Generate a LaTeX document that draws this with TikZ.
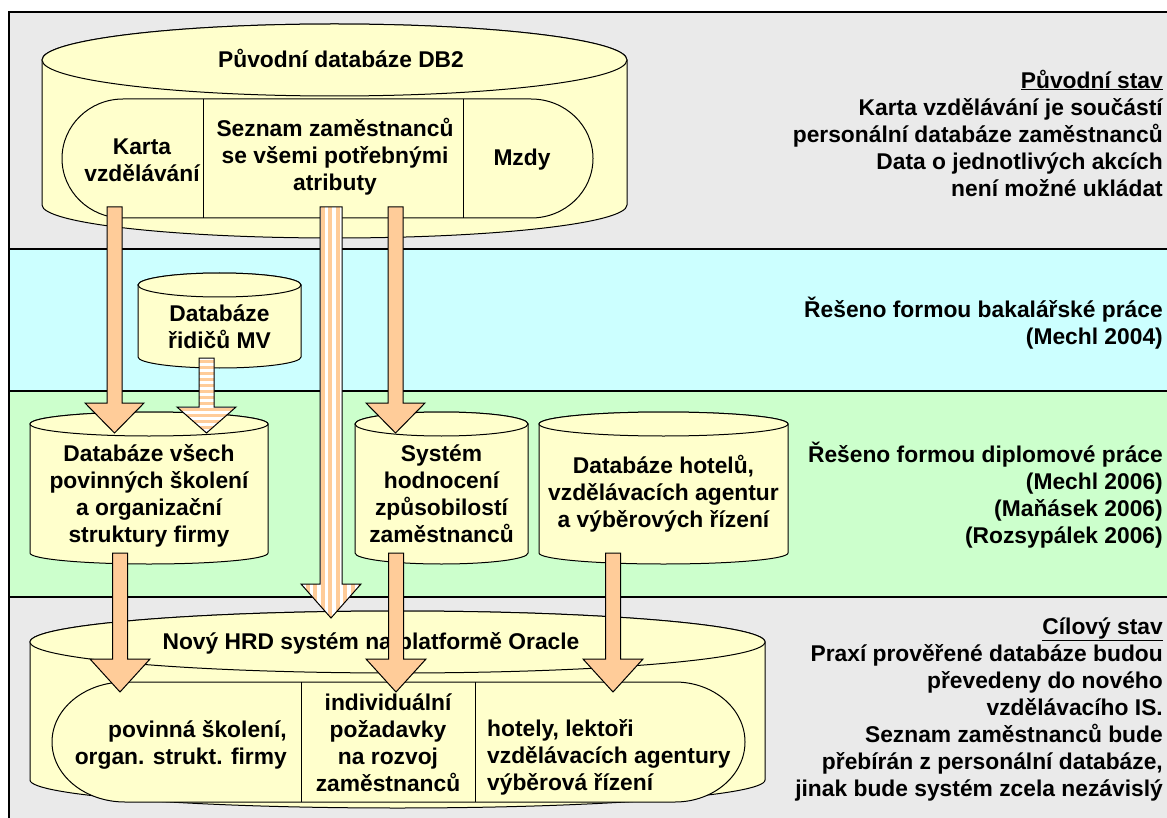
\documentclass[tikz,border=0pt]{standalone}
\usepackage{fontspec}
\setmainfont{Liberation Sans}
\usetikzlibrary{calc}
\usetikzlibrary{patterns.meta}

\definecolor{bandgray}{HTML}{EAEAEA}
\definecolor{bandcyan}{HTML}{CCFFFF}
\definecolor{bandgreen}{HTML}{CCFFCC}
\definecolor{cylfill}{HTML}{FFFFCC}
\definecolor{arrfill}{HTML}{FFCC99}

% block arrow: style, from, to, shaft half width, head half width, head length
\newcommand{\blockarr}[6]{%
  \draw[#1] ($(#2)+(-#4,0)$) -- ($(#3)+(-#4,-#6)$) -- ($(#3)+(-#5,-#6)$) -- (#3)
    -- ($(#3)+(#5,-#6)$) -- ($(#3)+(#4,-#6)$) -- ($(#2)+(#4,0)$) -- cycle;}

\tikzset{
  cyl/.style={draw=black, fill=cylfill, line width=1},
  txt/.style={font=\bfseries\fontsize{22.8}{27}\selectfont, align=center, inner sep=0},
  solidarr/.style={draw=black, fill=arrfill, line width=1},
  vstripe/.style={draw=black, line width=1, preaction={fill=white},
    pattern={Lines[angle=90,distance=7.5pt,line width=4pt]}, pattern color=arrfill},
  hstripe/.style={draw=black, line width=1, preaction={fill=white},
    pattern={Lines[angle=0,distance=6pt,line width=3pt]}, pattern color=arrfill}
}

\begin{document}
\begin{tikzpicture}[x=1pt, y=-1pt]
\useasboundingbox (0,0) rectangle (1167,818);
\clip (0,0) rectangle (1167,818);

% bands
\foreach \ya/\yb/\col in {12/249/bandgray, 249/391/bandcyan, 391/597/bandgreen, 597/840/bandgray}
  \draw[fill=\col, line width=1.2] (9,\ya) rectangle (1190,\yb);

% original DB2
\draw[cyl] (42,60) -- (42,205) arc[start angle=180, end angle=0, x radius=292.5, y radius=33]
  -- (627,60) arc[start angle=0, end angle=-180, x radius=292.5, y radius=36] -- cycle;
\draw[cyl] (334.5,60) ellipse [x radius=292.5, y radius=36];
\draw[cyl] (123,99) -- (531,99) arc[start angle=-90, end angle=90, x radius=62, y radius=59.5]
  -- (123,218) arc[start angle=90, end angle=270, x radius=61, y radius=59.5] -- cycle;
\draw[line width=1] (203,99) -- (203,218);
\draw[line width=1] (463,99) -- (463,218);

\node[txt] (db2) at (341,58) {Původní databáze DB2};
\node[txt] (karta) at (142,160) {Karta\\vzdělávání};
\node[txt] (seznam) at (335,157) {Seznam zaměstnanců\\se všemi potřebnými\\atributy};
\node[txt] (mzdy) at (522,160) {Mzdy};

% small cylinders
\foreach \cx/\rx/\yt/\yb in {219.5/81.5/285/357, 149/119/424/553, 441.5/86.5/424/553, 663.5/124.5/424/553}
{
  \draw[cyl] (\cx-\rx,\yt) -- (\cx-\rx,\yb) arc[start angle=180, end angle=0, x radius=\rx, y radius=11]
    -- (\cx+\rx,\yt) arc[start angle=0, end angle=-180, x radius=\rx, y radius=12] -- cycle;
  \draw[cyl] (\cx,\yt) ellipse [x radius=\rx, y radius=12];
}

\node[txt] (ridici) at (219.5,327) {Databáze\\řidičů MV};
\node[txt] (skoleni) at (149,496) {Databáze všech\\povinných školení\\a organizační\\struktury firmy};
\node[txt] (hodnoceni) at (441.5,494) {Systém\\hodnocení\\způsobilostí\\zaměstnanců};
\node[txt] (hotely) at (663.5,494) {Databáze hotelů,\\vzdělávacích agentur\\a výběrových řízení};

% new HRD system
\draw[cyl] (30,642) -- (30,780) arc[start angle=180, end angle=0, x radius=367.5, y radius=28]
  -- (765,642) arc[start angle=0, end angle=-180, x radius=367.5, y radius=31] -- cycle;
\draw[cyl] (397.5,642) ellipse [x radius=367.5, y radius=31];
\draw[cyl] (125,682) -- (675,682) arc[start angle=-90, end angle=90, x radius=70, y radius=60]
  -- (125,802) arc[start angle=90, end angle=270, x radius=73, y radius=60] -- cycle;
\draw[line width=1] (301,682) -- (301,802);
\draw[line width=1] (475,682) -- (475,802);

\node[txt] (hrd) at (371,643) {Nový HRD systém na platformě Oracle};
\node[txt, align=right, anchor=east] (povinna) at (287,745) {povinná školení,\\organ. strukt. firmy};
\node[txt] (pozadavky) at (388,743) {individuální\\požadavky\\na rozvoj\\zaměstnanců};
\node[txt, align=left, anchor=west] (lektori) at (487,757) {hotely, lektoři\\vzdělávacích agentury\\výběrová řízení};

% arrows
\coordinate (a1) at (114.5,207); \coordinate (b1) at (114.5,433);
\coordinate (a2) at (331,207);   \coordinate (b2) at (331,618);
\coordinate (a3) at (395.5,207); \coordinate (b3) at (395.5,433);
\coordinate (a4) at (206.5,358); \coordinate (b4) at (206.5,433);
\coordinate (a5) at (120,553);   \coordinate (b5) at (120,692);
\coordinate (a6) at (396,553);   \coordinate (b6) at (396,692);
\coordinate (a7) at (613,553);   \coordinate (b7) at (613,692);

\blockarr{solidarr}{a1}{b1}{7.5}{29.5}{30}
\blockarr{vstripe}{a2}{b2}{11}{30}{34}
\blockarr{solidarr}{a3}{b3}{7.5}{29.5}{30}
\blockarr{hstripe}{a4}{b4}{7.5}{29.5}{26}
\blockarr{solidarr}{a5}{b5}{7.5}{30}{33}
\blockarr{solidarr}{a6}{b6}{7.5}{30}{33}
\blockarr{solidarr}{a7}{b7}{7.5}{30}{33}

% right texts
\node[txt, align=right, anchor=east] (stav1) at (1163,133) {\underline{Původní stav}\\Karta vzdělávání je součástí\\personální databáze zaměstnanců\\Data o jednotlivých akcích\\není možné ukládat};
\node[txt, align=right, anchor=east] (bak) at (1163,323) {Řešeno formou bakalářské práce\\(Mechl 2004)};
\node[txt, align=right, anchor=east] (dipl) at (1163,495) {Řešeno formou diplomové práce\\(Mechl 2006)\\(Maňásek 2006)\\(Rozsypálek 2006)};
\node[txt, align=right, anchor=east] (stav2) at (1163,709) {\underline{Cílový stav}\\Praxí prověřené databáze budou\\převedeny do nového\\vzdělávacího IS.\\Seznam zaměstnanců bude\\přebírán z personální databáze,\\jinak bude systém zcela nezávislý};
\end{tikzpicture}
\end{document}
